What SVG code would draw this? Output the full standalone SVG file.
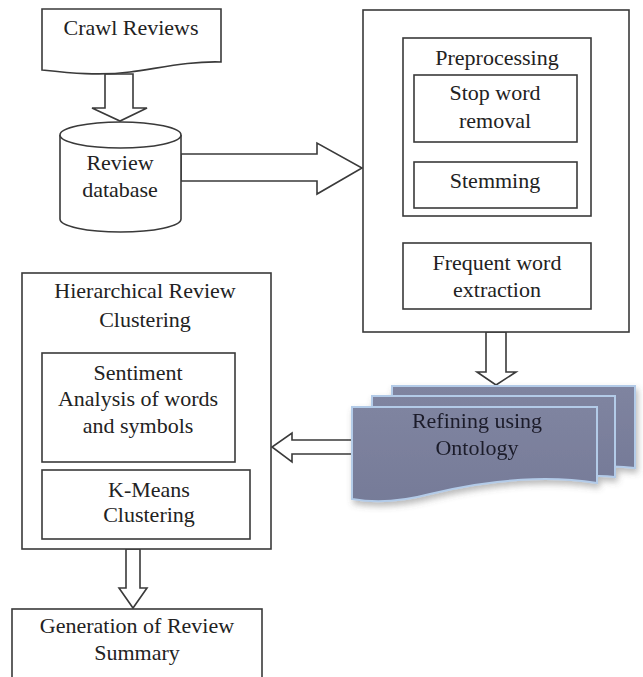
<svg xmlns="http://www.w3.org/2000/svg" width="643" height="677" viewBox="0 0 643 677">
<defs>
<style>
.s{fill:#fff;stroke:#3a3a3a;stroke-width:1.6}
.t{font-family:"Liberation Serif","Times New Roman",serif;font-size:22px;fill:#222;text-anchor:middle}
.doc{fill:url(#g);stroke:#b3cbe8;stroke-width:2}
.dt{font-family:"Liberation Serif","Times New Roman",serif;font-size:22px;fill:#1c1c2a;text-anchor:middle}
</style>
<linearGradient id="g" x1="0" y1="0" x2="0" y2="1">
<stop offset="0" stop-color="#7f84a0"/>
<stop offset="1" stop-color="#767b98"/>
</linearGradient>
<filter id="sh" x="-10%" y="-10%" width="130%" height="140%">
<feDropShadow dx="2" dy="4" stdDeviation="3" flood-color="#555" flood-opacity="0.4"/>
</filter>
</defs>
<rect width="643" height="677" fill="#fff"/>
<g id="connectors">
<polygon class="s" points="105,74 133,74 133,108 147,108 120,121 92,108 105,108"/>
<polygon class="s" points="181,154 317,154 317,143 362,168 317,194 317,181 181,181"/>
<polygon class="s" points="486,216 505,216 505,237 515,237 496,243 477,237 486,237"/>
<polygon class="s" points="486,332 506,332 506,372 516,372 496,385 477,372 486,372"/>
<polygon class="s" points="352,440 292,440 292,433 272,447 292,462 292,454 352,454"/>
<polygon class="s" points="126,549 140,549 140,588 147,588 133,608 119,588 126,588"/>
</g>
<g id="crawl">
<path class="s" d="M42,9 H221 V62 C190,61 160,68 130,72 C100,76 70,73 42,70 Z"/>
<text class="t" x="131" y="35">Crawl Reviews</text>
</g>
<g id="database">
<path class="s" d="M60,135 V219 A60.5,13 0 0 0 181,219 V135"/>
<ellipse class="s" cx="120.5" cy="135" rx="60.5" ry="13"/>
<text class="t" x="120" y="170">Review</text>
<text class="t" x="120" y="197">database</text>
</g>
<g id="processing">
<rect class="s" x="363" y="10" width="266" height="322"/>
</g>
<g id="preprocessing">
<rect class="s" x="403" y="38" width="188" height="178"/>
<text class="t" x="497" y="65">Preprocessing</text>
</g>
<g id="stopword">
<rect class="s" x="414" y="75" width="163" height="67"/>
<text class="t" x="495" y="100">Stop word</text>
<text class="t" x="495" y="128">removal</text>
</g>
<g id="stemming">
<rect class="s" x="414" y="162" width="163" height="46"/>
<text class="t" x="495" y="188">Stemming</text>
</g>
<g id="frequent">
<rect class="s" x="403" y="243" width="188" height="66"/>
<text class="t" x="497" y="270">Frequent word</text>
<text class="t" x="497" y="297">extraction</text>
</g>
<g id="refining" filter="url(#sh)">
<path class="doc" d="M392,386 H635 V468 C620,466 605,466 592,468 L592,420 L392,420 Z"/>
<path class="doc" d="M372,396 H615 V477 C600,475 585,476 570,479 L570,430 L372,430 Z"/>
<path class="doc" d="M352,407 H597 V483 C540,474 480,482 430,494 C400,502 375,503 352,499 Z"/>
<text class="dt" x="477" y="428">Refining using</text>
<text class="dt" x="477" y="455">Ontology</text>
</g>
<g id="hierarchical">
<rect class="s" x="22" y="273" width="249" height="276"/>
<text class="t" x="145" y="298">Hierarchical Review</text>
<text class="t" x="145" y="327">Clustering</text>
</g>
<g id="sentiment">
<rect class="s" x="42" y="353" width="193" height="109"/>
<text class="t" x="138" y="380">Sentiment</text>
<text class="t" x="138" y="406">Analysis of words</text>
<text class="t" x="138" y="433">and symbols</text>
</g>
<g id="kmeans">
<rect class="s" x="42" y="470" width="208" height="69"/>
<text class="t" x="149" y="497">K-Means</text>
<text class="t" x="149" y="522">Clustering</text>
</g>
<g id="summary">
<rect class="s" x="12" y="609" width="250" height="80"/>
<text class="t" x="137" y="633">Generation of Review</text>
<text class="t" x="137" y="660">Summary</text>
</g>
</svg>
